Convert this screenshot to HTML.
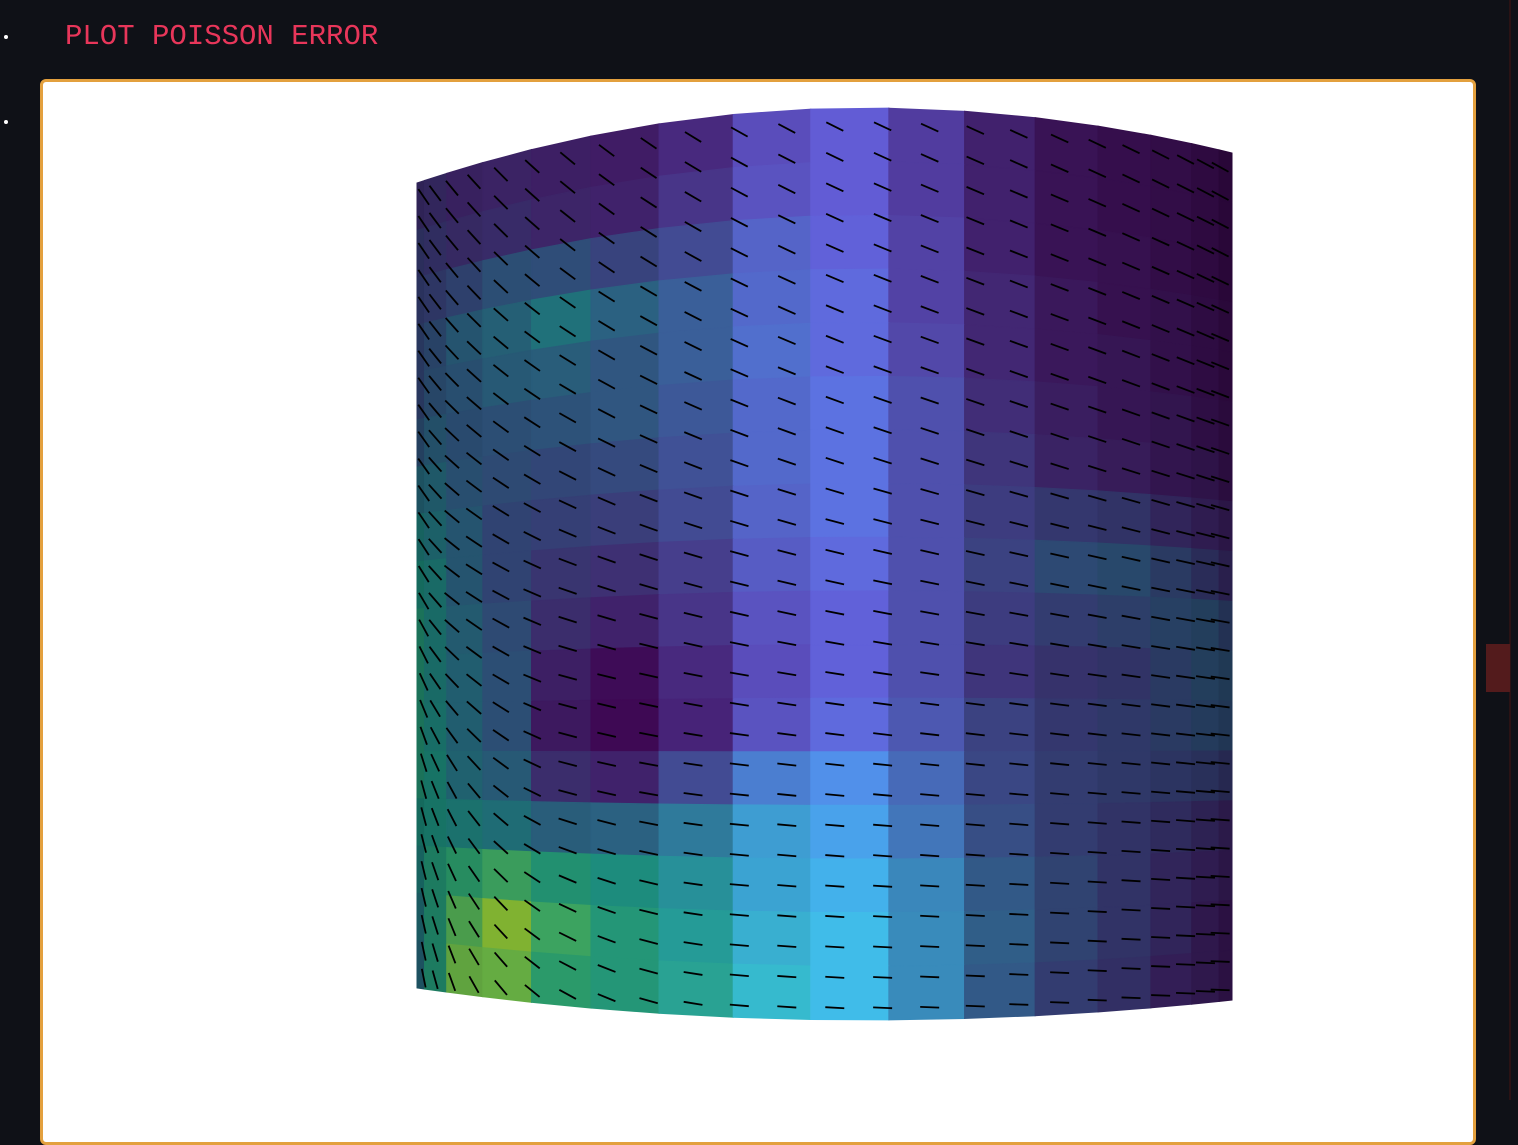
<!DOCTYPE html>
<html><head><meta charset="utf-8">
<style>
html,body{margin:0;padding:0;background:#0f1117;width:1518px;height:1100px;overflow:hidden;font-family:"Liberation Mono",monospace}
#title{position:absolute;left:65px;top:20px;color:#e8365a;font-size:29px;letter-spacing:0px}
.dot{position:absolute;width:4px;height:4px;border-radius:2px;background:#fff;left:4px}
#panel{position:absolute;left:40px;top:79px;width:1430px;height:1060px;background:#fff;border:3px solid #e3a03e;border-radius:6px}
#scrollline{position:absolute;left:1509px;top:0;width:2px;height:1100px;background:#2a1214}
#thumb{position:absolute;left:1486px;top:644px;width:24px;height:48px;background:#531b1c}
svg{position:absolute;left:0;top:0}
</style></head><body>
<div class="dot" style="top:35px"></div>
<div class="dot" style="top:120px"></div>
<div id="title">PLOT POISSON ERROR</div>
<div id="panel"></div>
<div id="scrollline"></div>
<div id="thumb"></div>
<svg id="chart" width="1518" height="1100"></svg>
<script>
// error values on cylinder grid (rows top->bottom, cols around cylinder left->right), 0..1
const errorValues = [
[.15,.15,.12,.12,.1,.08,.08,.1,.1,.08,.08,.06,.05,.05,.04,.03],
[.2,.18,.15,.15,.12,.1,.12,.12,.1,.08,.08,.06,.05,.05,.04,.03],
[.22,.22,.25,.3,.28,.22,.2,.18,.12,.1,.08,.06,.06,.05,.04,.03],
[.25,.28,.35,.38,.45,.35,.28,.2,.15,.1,.1,.08,.06,.06,.05,.04],
[.25,.3,.32,.35,.35,.3,.28,.22,.15,.12,.1,.08,.08,.06,.05,.04],
[.3,.35,.3,.3,.3,.3,.25,.2,.18,.15,.12,.1,.08,.08,.06,.05],
[.4,.4,.32,.28,.25,.25,.22,.2,.18,.15,.15,.12,.1,.08,.08,.06],
[.5,.45,.35,.25,.22,.2,.2,.18,.18,.15,.18,.2,.2,.15,.12,.1],
[.55,.5,.35,.25,.18,.15,.15,.15,.15,.15,.2,.28,.3,.25,.2,.15],
[.6,.5,.38,.28,.15,.1,.12,.12,.12,.15,.18,.22,.25,.28,.3,.25],
[.6,.5,.4,.3,.1,.03,.08,.1,.12,.15,.15,.18,.2,.25,.3,.3],
[.6,.52,.4,.3,.08,.02,.06,.12,.15,.18,.2,.2,.22,.25,.28,.28],
[.6,.55,.42,.35,.15,.1,.2,.28,.3,.25,.22,.22,.22,.22,.22,.2],
[.55,.55,.5,.45,.35,.35,.4,.42,.38,.3,.25,.22,.2,.18,.15,.12],
[.5,.6,.65,.7,.6,.55,.5,.45,.45,.38,.3,.25,.2,.15,.12,.1],
[.45,.6,.75,.85,.7,.6,.55,.5,.5,.4,.32,.25,.2,.15,.1,.08],
[.4,.6,.8,.8,.65,.6,.58,.55,.5,.4,.3,.22,.18,.12,.1,.08]
];
// flux direction angles (degrees, screen slope) on coarse grid
const fluxAngles = [
[60,50,40,30,25,25,28,30],
[60,50,38,28,22,22,25,28],
[62,45,32,25,20,20,22,22],
[65,40,28,20,18,18,18,18],
[75,35,20,15,12,12,12,12],
[80,45,15,10,8,8,8,8],
[85,60,15,6,5,5,5,5],
[85,65,25,5,3,3,3,3],
[85,70,30,5,2,2,2,2]
];
const NS="http://www.w3.org/2000/svg";
const svg=document.getElementById('chart');
const CX=825,A=408,PH0=-90,PH1=86;
function topY(x){const u=(x-417)/815;return u<0.55?108+75*Math.pow((0.55-u)/0.55,2):108+45*Math.pow((u-0.55)/0.45,2);}
function botY(x){const u=(x-417)/815;return u<0.55?1020-32*Math.pow((0.55-u)/0.55,2):1020-20*Math.pow((u-0.55)/0.45,2);}
function phiOf(u){return (PH0+u*(PH1-PH0))*Math.PI/180;}
function P(u,v){const x=CX+A*Math.sin(phiOf(u));const t=topY(x),b=botY(x);return [x,t+v*(b-t)];}
const vir=[[68,1,84],[72,40,120],[62,74,137],[49,104,142],[38,130,142],[31,158,137],[53,183,121],[109,205,89],[180,222,44],[253,231,37]];
function cmap(t){t=Math.max(0,Math.min(1,t))*(vir.length-1);const i=Math.min(vir.length-2,Math.floor(t)),f=t-i;return vir[i].map((c,k)=>c+(vir[i+1][k]-c)*f);}
function shade(c,u){const ph=phiOf(u);const d=0.6+0.3*Math.max(0,Math.cos(ph+0.17));const s=Math.exp(-Math.pow((ph-0.03)/0.3,2));const sp=[34,60,110];return c.map((v,k)=>Math.round(Math.min(255,v*d+sp[k]*s)));}
const R=errorValues.length,C=errorValues[0].length;
const gMesh=document.createElementNS(NS,'g');


svg.appendChild(gMesh);
for(let r=0;r<R;r++)for(let c=0;c<C;c++){
  const u0=c/C,u1=(c+1)/C,v0=r/R,v1=(r+1)/R;
  const pts=[P(u0,v0),P(u1,v0),P(u1,v1),P(u0,v1)];
  const col=shade(cmap(errorValues[r][c]),(u0+u1)/2);
  const fill='rgb('+col.join(',')+')';
  const poly=document.createElementNS(NS,'polygon');
  poly.setAttribute('points',pts.map(p=>p.join(',')).join(' '));
  poly.setAttribute('fill',fill);poly.setAttribute('stroke',fill);poly.setAttribute('stroke-width','1');
  
  
  gMesh.appendChild(poly);
}
function angAt(u,v){const AR=fluxAngles.length,AC=fluxAngles[0].length;const fy=v*(AR-1),fx=u*(AC-1);const i=Math.min(AR-2,Math.floor(fy)),j=Math.min(AC-2,Math.floor(fx));const a=fy-i,b=fx-j;
return fluxAngles[i][j]*(1-a)*(1-b)+fluxAngles[i][j+1]*(1-a)*b+fluxAngles[i+1][j]*a*(1-b)+fluxAngles[i+1][j+1]*a*b;}
const gQ=document.createElementNS(NS,'g');


svg.appendChild(gQ);
const QC=24,QR=30;
for(let r=0;r<QR;r++)for(let c=0;c<QC;c++){
  const u=0.04+0.92*(c+0.5)/QC,v=(r+0.6)/QR;
  const p=P(u,v);const a=angAt(u,v)*Math.PI/180;const L=19;
  const dx=Math.cos(a)*L/2,dy=Math.sin(a)*L/2;
  const ln=document.createElementNS(NS,'line');
  ln.setAttribute('x1',p[0]-dx);ln.setAttribute('y1',p[1]-dy);ln.setAttribute('x2',p[0]+dx);ln.setAttribute('y2',p[1]+dy);
  ln.setAttribute('stroke','#000');ln.setAttribute('stroke-width','1.8');
  
  
  gQ.appendChild(ln);
}
</script>
</body></html>
